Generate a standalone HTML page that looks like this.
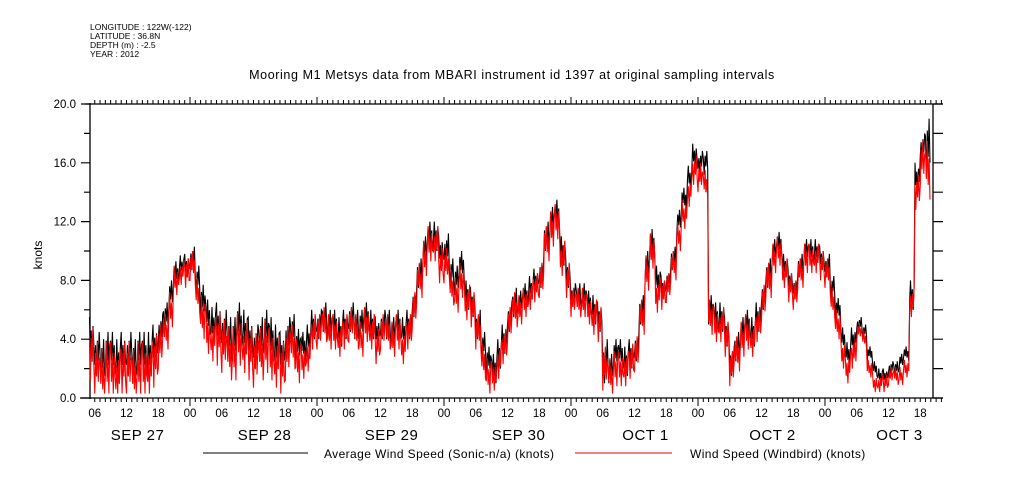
<!DOCTYPE html>
<html><head><meta charset="utf-8">
<style>
html,body{margin:0;padding:0;background:#fff;}
svg{display:block;font-family:"Liberation Sans",sans-serif;}
</style></head>
<body>
<svg id="chart" width="1009" height="504" viewBox="0 0 1009 504" xmlns="http://www.w3.org/2000/svg">
<g font-size="8.5" fill="#000">
<text x="90" y="30">LONGITUDE : 122W(-122)</text>
<text x="90" y="39">LATITUDE : 36.8N</text>
<text x="90" y="48">DEPTH (m) : -2.5</text>
<text x="90" y="57">YEAR : 2012</text>
</g>
<text x="512" y="79" text-anchor="middle" font-size="12.5" letter-spacing="0.6">Mooring M1 Metsys data from MBARI instrument id 1397 at original sampling intervals</text>
<text transform="translate(42,255) rotate(-90)" text-anchor="middle" font-size="12">knots</text>
<g id="axes"></g>
<g id="series"></g>
<g>
<line x1="203" y1="453" x2="308" y2="453" stroke="#000" stroke-width="1"/>
<text x="324" y="458" font-size="12" letter-spacing="0.4">Average Wind Speed (Sonic-n/a) (knots)</text>
<line x1="575" y1="453" x2="672" y2="453" stroke="#e00" stroke-width="1"/>
<text x="690" y="458" font-size="12" letter-spacing="0.4">Wind Speed (Windbird) (knots)</text>
</g>
</svg>
<script>
// Hourly data starting Sep 27 05:00 (hour index 5 from Sep 27 00:00)
const startHour = 5;
const sonicValues = [4,3,2.5,3,3,2.5,3,3,2.5,3,3,3,3.5,4.5,5.5,7,8.5,9,9,
9.5,8,6.5,5.5,5,5,4.5,4,4,5,4.5,4,3.5,4,4.5,4,3.5,3,4,4.5,3.5,3.5,4,5,
5,5.5,5,5,4.5,5,5.5,5,5,5.5,5,4.5,5,5,4.5,5,4.5,5,6.5,8.5,10,11,11,10,
10,8.5,8,9,7,6.5,5,3.5,2.5,2,3,4,5.5,6.5,6.5,7,7.5,8,8.5,11,12,12.5,10,8.5,
7,7,7,6.5,6,5.5,2.5,2,3,3,2.5,3,3.5,6,9,10.5,8,7.5,8,9.5,12,13.5,15,16.5,
16,16,6,5.5,5.5,4.5,2.5,3.5,4.5,5,4.5,5.5,7,8.5,10,10.5,9,8,7.5,9,10,10,10,9.5,
9,7.5,6,4,3,4,5,4.5,3,2,1.5,1.5,2,2,2.5,3,7,15,17,17];
const sonicSpread = [1.5,1.5,1.5,1.5,1.5,1.5,1.5,1.5,1.5,1.5,1.5,1.5,1.5,1.2,1,1,0.8,0.7,0.8,
0.8,1,1.2,1.2,1.2,1.5,1.5,1.5,1.5,1.5,1.5,1.5,1.5,1.5,1.5,1.5,1.5,1.5,1.5,1.2,1.2,1,1,1,
1,1,1,1,1,1,1,1,1,1,1,1,1,1,1,1,1,1,1,1,1,1,1,1,
1.2,1,1,1,1,1,1,1,1,1,1,1,1,1,0.8,0.8,0.8,0.8,1,1,1,1,1,1,
0.8,0.8,0.8,0.8,1,1,1.5,1,1,1,1,1,1,1,1,1,1,0.8,0.8,0.8,0.8,0.8,0.8,0.8,
0.8,0.8,1,1,1,1,1,1,1,1,1,1,1,1,0.8,0.8,0.8,0.8,0.8,0.8,0.8,0.8,0.8,0.8,
0.8,0.8,0.8,0.8,0.8,0.8,0.5,0.5,0.5,0.5,0.5,0.5,0.5,0.5,0.5,0.5,1,1,1,2];
const windbirdValues = [3,2,1.5,2,2,1.5,2,2,1.5,2,2,2,2.5,3.5,4.5,6,8,8.5,8.5,
9,7,5.5,4.5,4,4,3.5,3,3,4,3.5,3,2.5,3,3.5,3,2.5,2,3,3.5,2.5,2.5,3,4.5,
4.5,5,4.5,4.5,4,4.5,5,4.5,4,5,4.5,3.5,4.5,4.5,4,4.5,3.5,4.5,6,8,9.5,10.5,10.5,9,
9,7.5,7,8,6.5,6,4.5,2.5,1.5,1.5,2.5,3.5,5,6,6,6.5,7,7.5,8,10.5,11.5,12,9.5,8,
6.5,6.5,6.5,6,5.5,5,2,1.5,2,2,2,2.5,3,5.5,8.5,10,7,7,7.5,9,11,12.5,14,15.5,
15,14.5,5.5,5,5,4,2,3,4,4.5,4,5,6.5,8,9.5,10,8.5,7.5,7,8.5,9.5,9.5,9.5,9,
8.5,6.5,5,3,2,3,4.5,4,2,1,1,1,1.5,1.5,1.5,2,6.5,14,16,15.5];
const windbirdSpread = [1.8,1.8,1.8,1.8,1.8,1.8,1.8,1.8,1.8,1.8,1.8,1.8,1.8,1.5,1.2,1.2,1,0.8,1,
1,1.2,1.5,1.5,1.5,1.8,1.8,1.8,1.8,1.8,1.8,1.8,1.8,1.8,1.8,1.8,1.8,1.8,1.8,1.5,1.5,1.2,1.2,1.2,
1.2,1.2,1.2,1.2,1.2,1.2,1.2,1.2,1.2,1.2,1.2,1.2,1.2,1.2,1.2,1.2,1.2,1.2,1.2,1.2,1.2,1.2,1.2,1.2,
1.2,1.2,1.2,1.2,1.2,1.2,1.2,1.2,1.2,1,1.2,1.2,1.2,1.2,1,1,1,1,1.2,1.2,1.2,1.2,1.2,1.2,
1,1,1,1,1.2,1.2,1.5,1.2,1.2,1.2,1.2,1.2,1.2,1.2,1.2,1.2,1.2,1,1,1,1,1,1,1,
1,1,1.2,1.2,1.2,1.2,1.2,1.2,1.2,1.2,1.2,1.2,1.2,1.2,1,1,1,1,1,1,1,1,1,1,
1,1,1,1,1,1,0.6,0.6,0.6,0.6,0.6,0.6,0.6,0.6,0.6,0.6,1,1.2,1.5,2];
const yTicks = [0,4,8,12,16,20];
const yTickLabels = ["0.0","4.0","8.0","12.0","16.0","20.0"];
const dayLabels = ["SEP 27","SEP 28","SEP 29","SEP 30","OCT  1","OCT  2","OCT  3"];
const hourLabels = ["00","06","12","18"];

const NS = "http://www.w3.org/2000/svg";
const X0 = 63, PX_PER_HOUR = 127/24;
const Y0 = 398, PX_PER_KNOT = (398-104)/20;
const LEFT = 90, RIGHT = 933, TOP = 104, BOTTOM = 398, EXT = 943;
function xScale(h){ return X0 + h*PX_PER_HOUR; }
function yScale(v){ return Y0 - v*PX_PER_KNOT; }
function mk(tag, attrs, parent){
  const e = document.createElementNS(NS, tag);
  for (const k in attrs) e.setAttribute(k, attrs[k]);
  parent.appendChild(e); return e;
}
const axes = document.getElementById('axes');
const series = document.getElementById('series');

let fr = mk('path', {d:`M${LEFT},${TOP-1}V${BOTTOM+1}M${RIGHT},${TOP}V${BOTTOM}M${LEFT-5},${TOP}H${EXT}M${LEFT-10},${BOTTOM}H${EXT}`, stroke:'#000', 'stroke-width':1.3, fill:'none'}, axes);



let d = '';
for (let v = 0; v <= 20; v += 2) {
  const y = yScale(v);
  const major = v % 4 === 0;
  d += `M${major ? LEFT-9 : LEFT-6},${y}H${LEFT}M${RIGHT},${y}H${EXT}`;
}
let yt = mk('path', {d, stroke:'#000', 'stroke-width':1.2, fill:'none'}, axes);


yTicks.forEach((v, i) => {
  const t = mk('text', {x:76, y:yScale(v)+4, 'text-anchor':'end', 'font-size':11.5}, axes);
  t.textContent = yTickLabels[i];
  
  
});

d = '';
const firstH = Math.ceil((LEFT - X0)/PX_PER_HOUR), lastH = Math.floor((EXT - X0)/PX_PER_HOUR);
for (let h = firstH; h <= lastH; h++) {
  const x = xScale(h);
  const isDay = h % 24 === 0;
  const len = isDay ? 8 : 4;
  d += `M${x},${TOP}V${TOP-(isDay?7:4)}M${x},${BOTTOM}V${BOTTOM+len}`;
  if (h % 6 === 0 && x <= RIGHT) {
    const t = mk('text', {x:x, y:417, 'text-anchor':'middle', 'font-size':11.5}, axes);
    t.textContent = hourLabels[(h % 24)/6];
    
    
  }
}
let xt = mk('path', {d, stroke:'#000', 'stroke-width':1, fill:'none'}, axes);


dayLabels.forEach((lab, i) => {
  const t = mk('text', {x:xScale(i*24+12)+11, y:440, 'text-anchor':'middle', 'font-size':15, 'letter-spacing':'0.5', 'xml:space':'preserve'}, axes);
  t.textContent = lab;
  
  
});

// sub-hour wiggle pattern (fraction of hourly spread), mimics 10-min sampling noise
const wiggle = [1, -0.5, 0.4, -1, 0.6, -0.3];
function drawSeries(vals, spread, color, name, phase){
  let p = '';
  vals.forEach((v, i) => {
    const h = startHour + i;
    for (let k = 0; k < wiggle.length; k++) {
      const w = wiggle[(k + phase + i) % wiggle.length];
      const val = Math.max(0.3, v + w*spread[i]);
      p += (p === '' ? 'M' : 'L') + xScale(h + k/wiggle.length).toFixed(1) + ',' + yScale(val).toFixed(1);
    }
  });
  const path = mk('path', {d:p, stroke:color, 'stroke-width':1.1, fill:'none'}, series);
  
  
}
drawSeries(sonicValues, sonicSpread, '#000', 'sonic-wind-line', 0);
drawSeries(windbirdValues, windbirdSpread, '#f00', 'windbird-wind-line', 2);
</script>
</body></html>
